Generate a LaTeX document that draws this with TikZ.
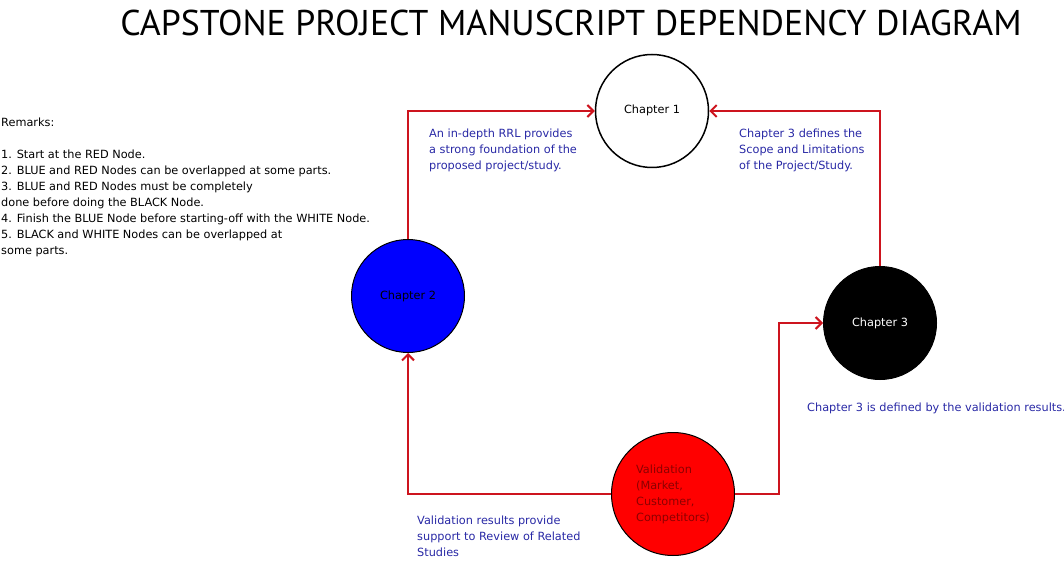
\documentclass[tikz,border=0pt]{standalone}
\usepackage{fontspec}
\setmainfont{DejaVu Sans}
\newfontfamily\titlefont{PT Sans}
\usetikzlibrary{arrows.meta,positioning}
\definecolor{linkred}{RGB}{205,20,30}
\definecolor{notenavy}{RGB}{40,40,165}
\definecolor{valred}{RGB}{140,0,0}
\tikzset{>={Straight Barb[length=6pt,width=12pt]},chapter node/.style={circle,draw,line width=1pt,minimum size=113pt,inner sep=0pt,font=\fontsize{11.3}{16}\selectfont},link/.style={->,draw=linkred,line width=2pt},note/.style={anchor=north west,inner sep=0pt,align=left,text=notenavy,font=\fontsize{11.3}{16}\selectfont}}

\begin{document}
\begin{tikzpicture}[x=1pt,y=-1pt]
    \useasboundingbox (0,0) rectangle (1064,561);
    \node (title) at (571,23) {\titlefont\fontsize{35.8}{36}\selectfont CAPSTONE PROJECT MANUSCRIPT DEPENDENCY DIAGRAM};
    \node[note, text=black] (remarks) at (1,118) {Remarks:\\[16pt]1. Start at the RED Node.\\2. BLUE and RED Nodes can be overlapped at some parts.\\3. BLUE and RED Nodes must be completely\\done before doing the BLACK Node.\\4. Finish the BLUE Node before starting-off with the WHITE Node.\\5. BLACK and WHITE Nodes can be overlapped at\\some parts.};
    \node[chapter node, line width=1.5pt, on grid] (ch1) at (652,111) {\raisebox{4pt}{Chapter 1}};
    \node[chapter node, fill=blue, on grid] (ch2) [below left = 185pt and 244pt of ch1] {Chapter 2};
    \node[chapter node, fill=black, text=white, on grid] (ch3) [below right = 212pt and 228pt of ch1] {Chapter 3};
    \node[chapter node, fill=red, minimum size=123pt, align=left, text=valred, on grid] (val) [below right = 383pt and 21pt of ch1] {Validation\\(Market,\\Customer,\\Competitors)};
    \path[link] (ch2.north) |- (ch1.west);
    \path[link] (ch3.north) |- (ch1.east);
    \path[link] (val.west) -| (ch2.south);
    \path[link] (val.east) -- ++(44,0) |- (ch3.west);
    \node[note] (n21) at (429,129) {An in-depth RRL provides\\a strong foundation of the\\proposed project/study.};
    \node[note] (n31) at (739,129) {Chapter 3 defines the\\Scope and Limitations\\of the Project/Study.};
    \node[note] (nv3) at (807,403) {Chapter 3 is defined by the validation results.};
    \node[note] (nv2) at (417,516) {Validation results provide\\support to Review of Related\\Studies};
  \end{tikzpicture}
\end{document}
